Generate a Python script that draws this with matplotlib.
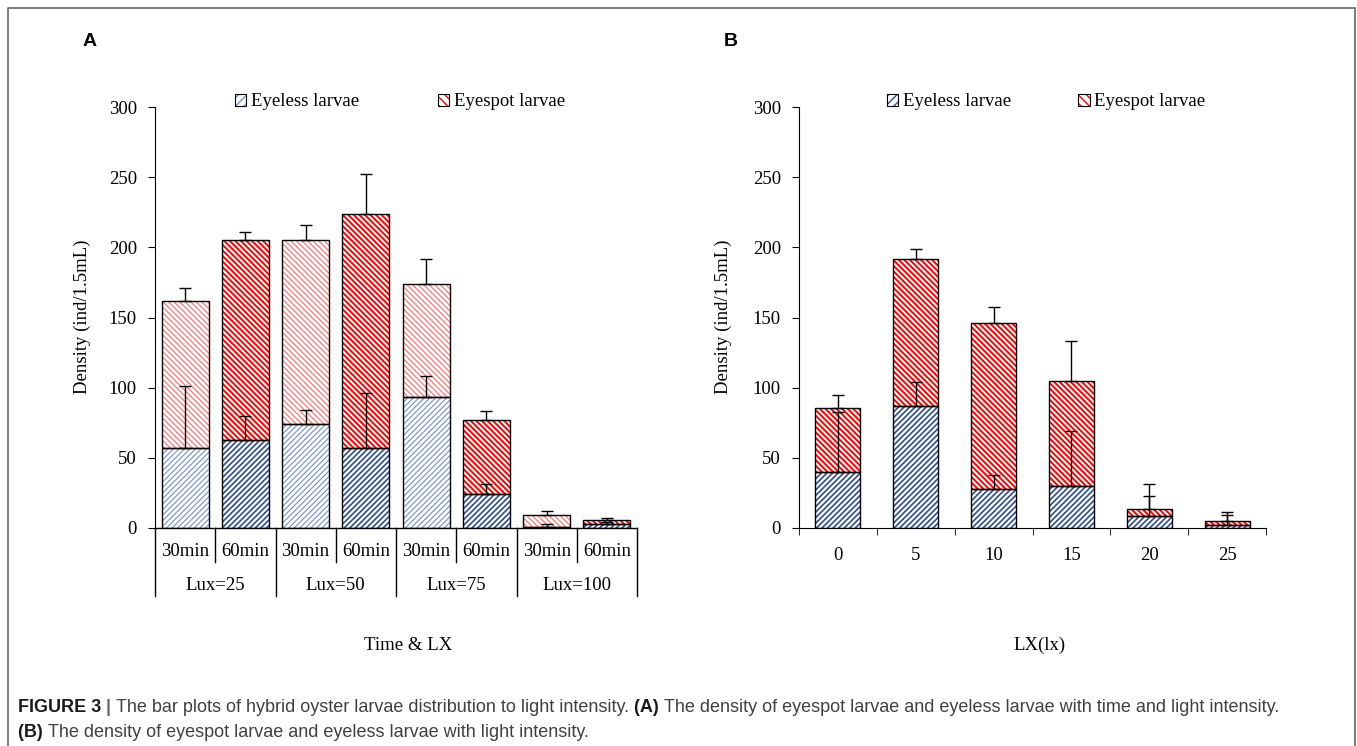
# Hybrid oyster larvae vs light intensity - two stacked bar panels

import numpy as np
import matplotlib.pyplot as plt
from matplotlib.patches import Patch
from matplotlib.lines import Line2D

plt.rcParams['font.family'] = 'Liberation Serif'

# Panel A: time & lux
time_labels = ['30min', '60min'] * 4
lux_labels = ['Lux=25', 'Lux=50', 'Lux=75', 'Lux=100']
a_eyeless = [57, 63, 74, 57, 93, 24, 1, 2.5]
a_eyeless_err = [44, 17, 10, 39, 15, 7, 2, 2]
a_eyespot = [105, 142, 131, 167, 81, 53, 8.5, 3]
a_total_err = [9, 6, 11, 28, 18, 6.5, 2.5, 1.5]

# Panel B: light intensity
b_lx = ['0', '5', '10', '15', '20', '25']
b_eyeless = [40, 87, 28, 30, 8.5, 2]
b_eyeless_err = [43, 17, 10, 39, 14, 7]
b_eyespot = [45.5, 105, 118, 75, 5, 3.3]
b_total_err = [9.5, 7, 11.5, 28.5, 18, 6]

BLUE_DARK = '#2b4d8f'
BLUE_LIGHT = '#6f8fcc'
RED_DARK = '#ff0000'
RED_LIGHT = '#ff6a6a'
FS = 13.5
H_BLUE = '//////'
H_RED = '\\\\\\\\\\\\'

W, H = 1357, 746
fig = plt.figure(figsize=(W / 100, H / 100), dpi=100)


def px_axes(l, r, b, t):
    return fig.add_axes([l / W, 1 - b / H, (r - l) / W, (b - t) / H])


def hatched_bars(ax, x, h, bottom, color, hatch, width, lw):
    with plt.rc_context({'hatch.linewidth': lw}):
        ax.bar(x, h, width, bottom=bottom, color='white', edgecolor=color,
               hatch=hatch, linewidth=0, zorder=2)
    ax.bar(x, h, width, bottom=bottom, fill=False, edgecolor='black',
           linewidth=1, zorder=3)


def up_err(ax, x, top, err):
    ax.errorbar(x, top, yerr=[np.zeros(len(err)), err], fmt='none',
                ecolor='black', elinewidth=1, capsize=4, capthick=1, zorder=4)


def style_y(ax):
    ax.set_ylim(0, 300)
    ax.set_yticks(range(0, 301, 50))
    ax.spines['top'].set_visible(False)
    ax.spines['right'].set_visible(False)
    ax.tick_params(axis='y', direction='out', length=5, labelsize=FS, pad=8)
    ax.patch.set_alpha(0)


def legend(ax, cx, cy, colspace, light_blue=False):
    bc = BLUE_LIGHT if light_blue else BLUE_DARK
    with plt.rc_context({'hatch.linewidth': 1.2}):
        h1 = (Patch(facecolor='white', edgecolor=bc, hatch='////', linewidth=0),
              Patch(fill=False, edgecolor='black', linewidth=0.8))
        h2 = (Patch(facecolor='white', edgecolor=RED_DARK, hatch='\\\\\\\\', linewidth=0),
              Patch(fill=False, edgecolor='black', linewidth=0.8))
    ax.legend([h1, h2], ['Eyeless larvae', 'Eyespot larvae'], ncol=2,
              loc='center', bbox_to_anchor=(cx / W, 1 - cy / H),
              bbox_transform=fig.transFigure, frameon=False, fontsize=FS,
              handlelength=0.6, handleheight=0.6, handletextpad=0.25,
              columnspacing=colspace, borderpad=0)


# ---------------- panel A ----------------
axA = px_axes(155, 637, 528, 107)
style_y(axA)
xa = np.arange(len(a_eyeless))
ey = np.array(a_eyeless)
es = np.array(a_eyespot)
light = xa % 2 == 0
dark = ~light
hatched_bars(axA, xa[light], ey[light], 0, BLUE_LIGHT, H_BLUE, 0.78, 0.8)
hatched_bars(axA, xa[dark], ey[dark], 0, BLUE_DARK, H_BLUE, 0.78, 1.2)
hatched_bars(axA, xa[light], es[light], ey[light], RED_LIGHT, H_RED, 0.78, 0.8)
hatched_bars(axA, xa[dark], es[dark], ey[dark], RED_DARK, H_RED, 0.78, 1.4)
up_err(axA, xa, ey + es, a_total_err)
up_err(axA, xa, ey, a_eyeless_err)
axA.set_xlim(-0.5, len(xa) - 0.5)
axA.set_xticks([])
axA.spines['bottom'].set_linewidth(1)

# category table under the axis
trA = axA.get_xaxis_transform()
unit = 1 / (528 - 107)
for k in range(len(xa) + 1):
    depth = 68 if k % 2 == 0 else 34
    axA.add_line(Line2D([k - 0.5, k - 0.5], [0, -depth * unit], transform=trA,
                        color='black', lw=1, clip_on=False))
for i, lab in enumerate(time_labels):
    axA.text(i, -24 * unit, lab, transform=trA, ha='center', va='center', fontsize=FS)
for g, lab in enumerate(lux_labels):
    axA.text(2 * g + 0.5, -57 * unit, lab, transform=trA, ha='center', va='center', fontsize=FS)

legend(axA, 400, 102, 4.2, light_blue=True)

# ---------------- panel B ----------------
axB = px_axes(799, 1266, 528, 107)
style_y(axB)
xb = np.arange(len(b_lx))
hatched_bars(axB, xb, b_eyeless, 0, BLUE_DARK, H_BLUE, 0.58, 1.2)
hatched_bars(axB, xb, b_eyespot, b_eyeless, RED_DARK, H_RED, 0.58, 1.4)
up_err(axB, xb, np.array(b_eyeless) + np.array(b_eyespot), b_total_err)
up_err(axB, xb, b_eyeless, b_eyeless_err)
axB.set_xlim(-0.5, len(xb) - 0.5)
axB.set_xticks(xb)
axB.set_xticklabels(b_lx)
axB.set_xticks(np.arange(len(xb) + 1) - 0.5, minor=True)
axB.tick_params(axis='x', which='major', length=0, labelsize=FS, pad=14)
axB.tick_params(axis='x', which='minor', direction='out', length=5)

legend(axB, 1046, 102, 3.6)

# axis titles
for ax_x in (82, 723):
    fig.text(ax_x / W, 1 - 317 / H, 'Density (ind/1.5mL)', rotation=90,
             ha='center', va='center', fontsize=FS)
fig.text(408 / W, 1 - 645 / H, 'Time & LX', ha='center', va='center', fontsize=FS)
fig.text(1040 / W, 1 - 645 / H, 'LX(lx)', ha='center', va='center', fontsize=FS)

fig.text(90 / W, 1 - 42 / H, 'A', family='Liberation Sans', weight='bold',
         fontsize=14, ha='center', va='center')
fig.text(731 / W, 1 - 42 / H, 'B', family='Liberation Sans', weight='bold',
         fontsize=14, ha='center', va='center')

# outer frame
fig.add_artist(Line2D([8 / W, 8 / W, 1355 / W, 1355 / W], [0, 1 - 8 / H, 1 - 8 / H, 0],
                      transform=fig.transFigure, color='#666666', lw=1.2))

# caption, pieced together with mixed weights
renderer = fig.canvas.get_renderer()
GRAY = '#404040'


def caption_line(parts, x, y):
    x = x / W
    for s, bold, col in parts:
        t = fig.text(x, 1 - y / H, s, family='Liberation Sans', fontsize=13,
                     weight='bold' if bold else 'normal', color=col,
                     ha='left', va='baseline')
        x = t.get_window_extent(renderer).x1 / W


caption_line([('FIGURE 3 ', True, '#1a1a1a'), ('| ', True, '#666666'),
              ('The bar plots of hybrid oyster larvae distribution to light intensity. ', False, GRAY),
              ('(A) ', True, '#1a1a1a'),
              ('The density of eyespot larvae and eyeless larvae with time and light intensity.', False, GRAY)],
             18, 712)
caption_line([('(B) ', True, '#1a1a1a'),
              ('The density of eyespot larvae and eyeless larvae with light intensity.', False, GRAY)],
             18, 737)

fig.savefig('out.png', dpi=100)
